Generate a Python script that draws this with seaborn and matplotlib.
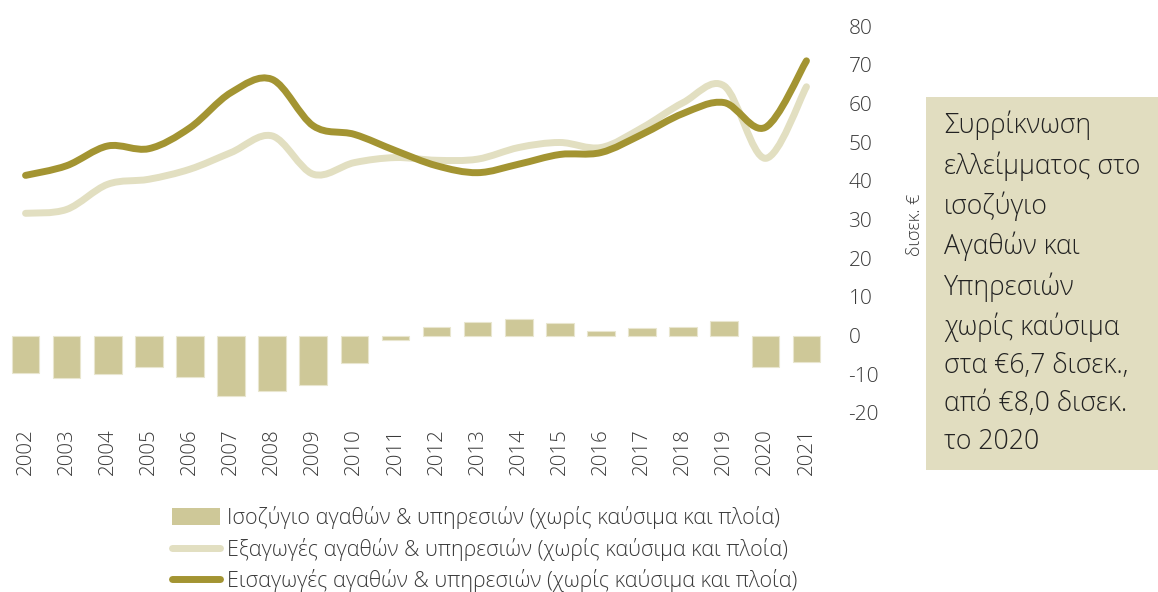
import numpy as np
import pandas as pd
import seaborn as sns
import matplotlib.pyplot as plt
from matplotlib.path import Path
from matplotlib.patches import PathPatch, Patch, Rectangle
from matplotlib.lines import Line2D

# Data (billion €)
years = [str(y) for y in range(2002, 2022)]
balance = [-9.6, -11.0, -10.0, -8.1, -10.7, -15.5, -14.3, -12.7, -7.1, -1.1,
           2.1, 3.4, 4.3, 3.3, 1.3, 2.0, 2.1, 3.8, -8.0, -6.7]
exports = [31.6, 32.6, 39.1, 40.4, 43.0, 47.3, 51.6, 41.7, 44.7, 46.0,
           45.3, 45.6, 48.6, 49.9, 48.6, 53.7, 60.2, 64.5, 45.8, 64.3]
imports = [41.4, 43.9, 49.0, 48.3, 53.7, 62.8, 66.2, 54.2, 52.0, 47.8,
           43.9, 42.1, 44.3, 46.8, 47.3, 52.0, 57.4, 60.2, 53.8, 71.0]
yticks = list(range(-20, 90, 10))

label_bal = "Ισοζύγιο αγαθών & υπηρεσιών (χωρίς καύσιμα και πλοία)"
label_exp = "Εξαγωγές αγαθών & υπηρεσιών (χωρίς καύσιμα και πλοία)"
label_imp = "Εισαγωγές αγαθών & υπηρεσιών (χωρίς καύσιμα και πλοία)"
note = ("Συρρίκνωση\nελλείμματος στο\nισοζύγιο\nΑγαθών και\nΥπηρεσιών\n"
        "χωρίς καύσιμα\nστα €6,7 δισεκ.,\nαπό €8,0 δισεκ.\nτο 2020")

BAR_C = "#cec898"
EXP_C = "#e2dfc1"
IMP_C = "#a39432"
BOX_C = "#e1ddc0"
TXT_C = "#3a3a3a"

sns.set_theme(style="white")
plt.rcParams["font.family"] = ["Open Sans", "DejaVu Sans"]
plt.rcParams["axes.unicode_minus"] = False

W, H = 1158, 592
fig = plt.figure(figsize=(W / 100, H / 100), dpi=100)
ax = fig.add_axes([5 / W, 1 - 413 / H, (827 - 5) / W, (413 - 26) / H])

df = pd.DataFrame({"year": years, "balance": balance})
sns.barplot(data=df, x="year", y="balance", color=BAR_C, width=0.67,
            edgecolor="#e9e6cf", linewidth=0.8, saturation=1, ax=ax, zorder=2)


def smooth_path(xs, ys):
    """Catmull-Rom style Bezier path through the points."""
    pts = np.column_stack([xs, ys]).astype(float)
    n = len(pts)
    verts = [pts[0]]
    codes = [Path.MOVETO]
    for i in range(n - 1):
        p0 = pts[i - 1] if i > 0 else pts[i]
        p1 = pts[i]
        p2 = pts[i + 1]
        p3 = pts[i + 2] if i + 2 < n else pts[i + 1]
        c1 = p1 + (p2 - p0) / 6.0
        c2 = p2 - (p3 - p1) / 6.0
        verts += [c1, c2, p2]
        codes += [Path.CURVE4] * 3
    return Path(verts, codes)


xpos = np.arange(len(years))
for vals, col, z in [(exports, EXP_C, 3), (imports, IMP_C, 4)]:
    ax.add_patch(PathPatch(smooth_path(xpos, vals), facecolor="none",
                           edgecolor=col, linewidth=5, capstyle="round",
                           joinstyle="round", zorder=z))

ax.set_xlim(-0.5, len(years) - 0.5)
ax.set_ylim(-20, 80)
ax.set_yticks(yticks)
ax.yaxis.tick_right()
ax.tick_params(axis="y", length=0, pad=15.5, labelsize=15, labelcolor=TXT_C)
ax.tick_params(axis="x", length=0, pad=11, labelsize=14.8, labelcolor=TXT_C,
               labelrotation=90)
for lab in ax.get_yticklabels():
    lab.set_fontweight("light")
for lab in ax.get_xticklabels():
    lab.set_fontweight("light")
ax.set_xlabel("")
ax.set_ylabel("")
for s in ax.spines.values():
    s.set_visible(False)
ax.set_facecolor("none")

fig.text(915 / W, 1 - 225 / H, "δισεκ. €", rotation=90, ha="center",
         va="center", fontsize=13, color=TXT_C, fontweight="light")

# Side note box
fig.patches.append(Rectangle((926 / W, 1 - 470 / H), (W - 926) / W,
                             (470 - 97) / H, transform=fig.transFigure,
                             facecolor=BOX_C, edgecolor="none", zorder=0))
fig.text(944 / W, 1 - 111 / H, note, ha="left", va="top", fontsize=19.2,
         linespacing=1.48, color="#222222", fontweight="light")

handles = [Patch(facecolor=BAR_C, edgecolor="none"),
           Line2D([], [], color=EXP_C, lw=5, solid_capstyle="round"),
           Line2D([], [], color=IMP_C, lw=5, solid_capstyle="round")]
leg = fig.legend(handles, [label_bal, label_exp, label_imp],
                 loc="upper left", bbox_to_anchor=(172 / W, 1 - 506 / H),
                 frameon=False, fontsize=15.5, handlelength=2.25,
                 handleheight=0.8, handletextpad=0.3, labelspacing=0.4,
                 borderpad=0, borderaxespad=0)
for t in leg.get_texts():
    t.set_color(TXT_C)
    t.set_fontweight("light")

fig.savefig("out.png", dpi=100)
